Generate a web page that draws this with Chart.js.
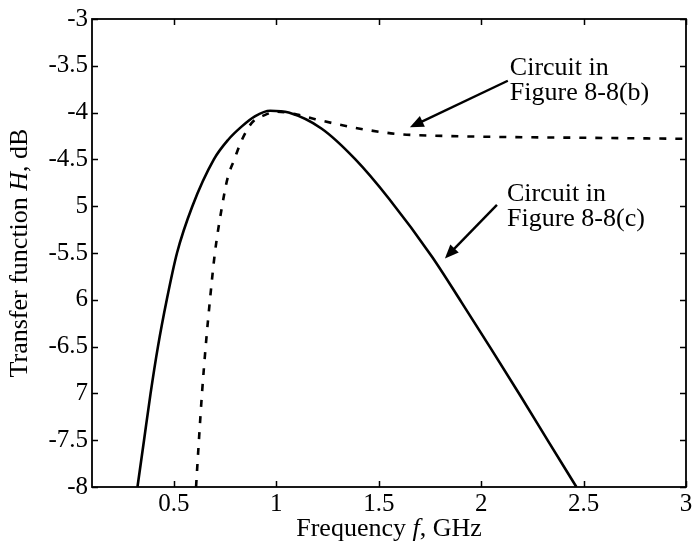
<!DOCTYPE html>
<html>
<head>
<meta charset="utf-8">
<script src="https://cdn.jsdelivr.net/npm/chart.js@4/dist/chart.umd.min.js"></script>
<style>
  html, body { margin: 0; padding: 0; background: #fff; }
</style>
</head>
<body>
<canvas id="grafica" width="695" height="545"></canvas>
<script>
// Datos (frecuencia en GHz, H en dB)
const solidX = [0.322, 0.354, 0.386, 0.422, 0.465, 0.515, 0.59, 0.695, 0.765, 0.83, 0.895, 0.97, 1.06, 1.22, 1.386, 1.55, 1.76, 1.905, 2.05, 2.19, 2.33, 2.465];
const solidY = [-8, -7.5, -7.0, -6.5, -6.0, -5.5, -5.0, -4.5, -4.29, -4.15, -4.04, -3.98, -4.0, -4.17, -4.5, -4.92, -5.54, -6.03, -6.53, -7.02, -7.52, -8];

const dashX = [0.608, 0.622, 0.637, 0.655, 0.676, 0.70, 0.735, 0.762, 0.795, 0.83, 0.88, 0.94, 1.0, 1.1, 1.19, 1.29, 1.43, 1.6, 1.84, 2.09, 2.54, 3.0];
const dashY = [-8, -7.5, -7.0, -6.5, -6.0, -5.5, -5.0, -4.7, -4.5, -4.3, -4.11, -4.03, -3.99, -4.02, -4.07, -4.12, -4.18, -4.23, -4.25, -4.26, -4.27, -4.28];

const xTicks = [0.5, 1, 1.5, 2, 2.5, 3];
const xTickLabels = ["0.5", "1", "1.5", "2", "2.5", "3"];
const yTicks = [-8, -7.5, -7, -6.5, -6, -5.5, -5, -4.5, -4, -3.5, -3];
const yTickLabels = ["-8", "-7.5", "7", "-6.5", "6", "-5.5", "5", "-4.5", "-4", "-3.5", "-3"];

const etiquetaB = ["Circuit in", "Figure 8-8(b)"];
const etiquetaC = ["Circuit in", "Figure 8-8(c)"];

const fuente = "'Liberation Serif', 'Times New Roman', serif";

function puntos(xs, ys) {
  return xs.map((x, i) => ({ x, y: ys[i] }));
}

// Texto con partes en cursiva
function textoMixto(ctx, partes, x, y, size) {
  let total = 0;
  partes.forEach(([t, it]) => {
    ctx.font = (it ? "italic " : "") + size + "px " + fuente;
    total += ctx.measureText(t).width;
  });
  let cx = x - total / 2;
  partes.forEach(([t, it]) => {
    ctx.font = (it ? "italic " : "") + size + "px " + fuente;
    ctx.fillText(t, cx, y);
    cx += ctx.measureText(t).width;
  });
}

function flecha(ctx, x1, y1, x2, y2) {
  const ang = Math.atan2(y2 - y1, x2 - x1);
  ctx.lineWidth = 2.4;
  ctx.beginPath();
  ctx.moveTo(x1, y1);
  ctx.lineTo(x2 - 8 * Math.cos(ang), y2 - 8 * Math.sin(ang));
  ctx.stroke();
  ctx.beginPath();
  ctx.moveTo(x2, y2);
  ctx.lineTo(x2 - 15 * Math.cos(ang - 0.4), y2 - 15 * Math.sin(ang - 0.4));
  ctx.lineTo(x2 - 15 * Math.cos(ang + 0.4), y2 - 15 * Math.sin(ang + 0.4));
  ctx.closePath();
  ctx.fill();
}

// Marco, ticks interiores, titulos y anotaciones
const marco = {
  id: "marco",
  afterDraw(chart) {
    const { ctx, chartArea: a, scales: { x, y } } = chart;
    ctx.save();
    ctx.strokeStyle = "#000";
    ctx.fillStyle = "#000";
    ctx.lineWidth = 1.8;
    ctx.strokeRect(a.left, a.top, a.right - a.left, a.bottom - a.top);

    ctx.lineWidth = 1.5;
    ctx.beginPath();
    xTicks.forEach(v => {
      const px = Math.round(x.getPixelForValue(v)) + 0.5;
      ctx.moveTo(px, a.bottom); ctx.lineTo(px, a.bottom - 6);
      ctx.moveTo(px, a.top); ctx.lineTo(px, a.top + 6);
    });
    yTicks.forEach(v => {
      const py = Math.round(y.getPixelForValue(v)) + 0.5;
      ctx.moveTo(a.left, py); ctx.lineTo(a.left + 6, py);
      ctx.moveTo(a.right, py); ctx.lineTo(a.right - 6, py);
    });
    ctx.stroke();

    // titulos de ejes
    ctx.textBaseline = "middle";
    textoMixto(ctx, [["Frequency ", false], ["f", true], [", GHz", false]], (a.left + a.right) / 2, 529, 26);
    ctx.save();
    ctx.translate(20, (a.top + a.bottom) / 2);
    ctx.rotate(-Math.PI / 2);
    textoMixto(ctx, [["Transfer function ", false], ["H", true], [", dB", false]], 0, 0, 26);
    ctx.restore();

    // anotaciones
    ctx.font = "26px " + fuente;
    ctx.textAlign = "left";
    ctx.fillText(etiquetaB[0], x.getPixelForValue(2.14), y.getPixelForValue(-3.52));
    ctx.fillText(etiquetaB[1], x.getPixelForValue(2.14), y.getPixelForValue(-3.79));
    ctx.fillText(etiquetaC[0], x.getPixelForValue(2.126), y.getPixelForValue(-4.87));
    ctx.fillText(etiquetaC[1], x.getPixelForValue(2.126), y.getPixelForValue(-5.14));

    flecha(ctx, x.getPixelForValue(2.13), y.getPixelForValue(-3.66), x.getPixelForValue(1.652), y.getPixelForValue(-4.157));
    flecha(ctx, x.getPixelForValue(2.077), y.getPixelForValue(-4.985), x.getPixelForValue(1.823), y.getPixelForValue(-5.558));
    ctx.restore();
  }
};

const tickFont = { family: fuente, size: 25 };

new Chart(document.querySelector("#grafica"), {
  type: "scatter",
  data: {
    datasets: [
      {
        label: "Figure 8-8(c)",
        data: puntos(solidX, solidY),
        showLine: true,
        borderColor: "#000",
        borderWidth: 2.6,
        pointRadius: 0,
        cubicInterpolationMode: "monotone",
      },
      {
        label: "Figure 8-8(b)",
        data: puntos(dashX, dashY),
        showLine: true,
        borderColor: "#000",
        borderWidth: 2.6,
        borderDash: [7, 9],
        pointRadius: 0,
        cubicInterpolationMode: "monotone",
      },
    ],
  },
  options: {
    responsive: false,
    animation: false,
    layout: { padding: { top: 16, right: 9, left: 0, bottom: 0 } },
    plugins: { legend: { display: false }, tooltip: { enabled: false } },
    scales: {
      x: {
        type: "linear",
        min: 0.1,
        max: 3,
        grid: { display: false, drawTicks: false },
        border: { display: false },
        afterBuildTicks: s => { s.ticks = xTicks.map(v => ({ value: v })); },
        afterFit: s => { s.height = 58; },
        ticks: {
          font: tickFont,
          color: "#000",
          padding: 2,
          autoSkip: false,
          maxRotation: 0,
          callback: (v, i) => xTickLabels[i],
        },
      },
      y: {
        min: -8,
        max: -3,
        grid: { display: false, drawTicks: false },
        border: { display: false },
        afterBuildTicks: s => { s.ticks = yTicks.map(v => ({ value: v })); },
        afterFit: s => { s.width = 92; },
        ticks: {
          font: tickFont,
          color: "#000",
          padding: 4,
          autoSkip: false,
          callback: (v, i) => yTickLabels[i],
        },
      },
    },
  },
  plugins: [marco],
});
</script>
</body>
</html>
